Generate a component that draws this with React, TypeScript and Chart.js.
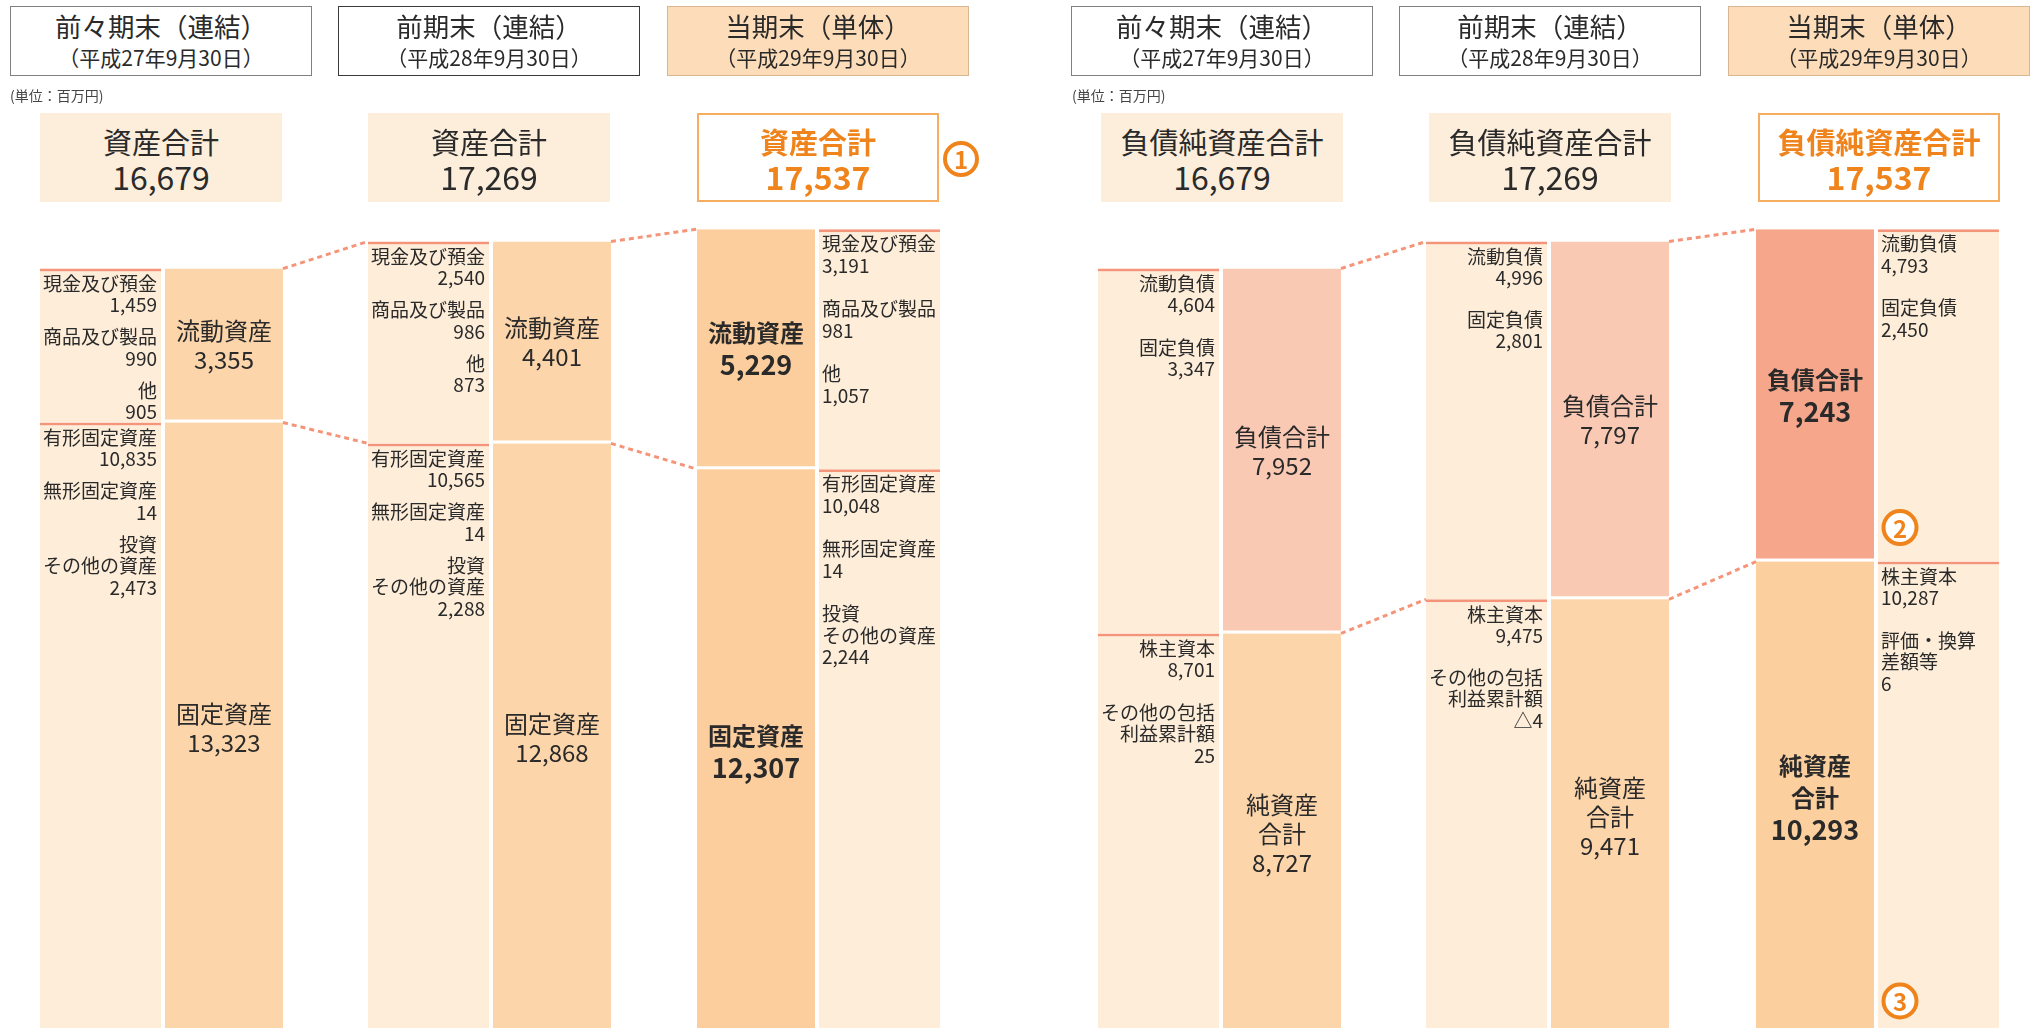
import React, { useEffect, useRef } from 'react';
import { Chart, registerables } from 'chart.js';

Chart.register(...registerables);

// ---------------- data ----------------
const periodNames = ['前々期末（連結）', '前期末（連結）', '当期末（単体）'];
const periodDates = ['（平成27年9月30日）', '（平成28年9月30日）', '（平成29年9月30日）'];
const unitLabel = '(単位：百万円)';

const totalAssets = [16679, 17269, 17537];
const currentAssets = [3355, 4401, 5229];
const fixedAssets = [13323, 12868, 12307];
const cashAndDeposits = [1459, 2540, 3191];
const merchandiseAndProducts = [990, 986, 981];
const otherCurrentAssets = [905, 873, 1057];
const tangibleFixedAssets = [10835, 10565, 10048];
const intangibleFixedAssets = [14, 14, 14];
const investmentsAndOtherAssets = [2473, 2288, 2244];

const totalLiabilitiesAndNetAssets = [16679, 17269, 17537];
const totalLiabilities = [7952, 7797, 7243];
const totalNetAssets = [8727, 9471, 10293];
const currentLiabilities = [4604, 4996, 4793];
const fixedLiabilities = [3347, 2801, 2450];
const shareholdersEquity = [8701, 9475, 10287];
const otherEquityValues = [25, -4, 6];
const otherEquityLabels = [
  ['その他の包括', '利益累計額'],
  ['その他の包括', '利益累計額'],
  ['評価・換算', '差額等'],
];

// ---------------- layout / style ----------------
const W = 2031;
const H = 1028;
const FONT = '"Noto Sans CJK JP", "Noto Sans", sans-serif';
const TEXT = '#2a2a2a';
const DETAIL_BG = '#FDEDD9';
const SALMON = '#F4957A';
const ASSET_BG = '#FCD5AA';
const ASSET_BG_EMPH = '#FCCE9E';
const LIAB_BG = '#FAC9B4';
const LIAB_BG_EMPH = '#F5A68B';
const NET_BG = '#FCD5AA';
const NET_BG_EMPH = '#FCCF9F';
const ORANGE = '#F0841C';
const TOTAL_BG = '#FDEEDC';

const COL_LEFT = [40, 368, 697, 1098, 1426, 1756];
const MAIN_FIRST = [false, false, true, false, false, true];
const DETAIL_W = 121;
const MAIN_W = 118;
const PAIR_GAP = 4;
const ITEM_GAP = [10.5, 10.5, 22, 21, 20, 21];
const HEADER_LEFT = [10, 338, 667, 1071, 1399, 1728];
const TOTAL_LEFT = [40, 368, 697, 1101, 1429, 1758];
const VALUE_AT_TOP = 22530;
const VALUE_AT_BOTTOM = 130;

const detailCenter = (c: number) =>
  MAIN_FIRST[c] ? COL_LEFT[c] + MAIN_W + PAIR_GAP + DETAIL_W / 2 : COL_LEFT[c] + DETAIL_W / 2;
const mainCenter = (c: number) =>
  MAIN_FIRST[c] ? COL_LEFT[c] + MAIN_W / 2 : COL_LEFT[c] + DETAIL_W + PAIR_GAP + MAIN_W / 2;

const fmt = (n: number) => (n < 0 ? '△' + Math.abs(n).toLocaleString('en-US') : n.toLocaleString('en-US'));

type Seg = { col: number; lo: number; hi: number; emph: boolean; fill: string; label: string[]; items: string[][] };

const mainUpper: Seg[] = [];
const mainLower: Seg[] = [];
const detailSegs: Seg[] = [];

for (let i = 0; i < 3; i++) {
  const emph = i === 2;
  const lo = fixedAssets[i];
  const hi = fixedAssets[i] + currentAssets[i];
  mainUpper.push({ col: i, lo, hi, emph, fill: emph ? ASSET_BG_EMPH : ASSET_BG, label: ['流動資産', fmt(currentAssets[i])], items: [] });
  mainLower.push({ col: i, lo: 0, hi: lo, emph, fill: emph ? ASSET_BG_EMPH : ASSET_BG, label: ['固定資産', fmt(fixedAssets[i])], items: [] });
  detailSegs.push({ col: i, lo, hi, emph, fill: DETAIL_BG, label: [], items: [
    ['現金及び預金', fmt(cashAndDeposits[i])],
    ['商品及び製品', fmt(merchandiseAndProducts[i])],
    ['他', fmt(otherCurrentAssets[i])],
  ] });
  detailSegs.push({ col: i, lo: 0, hi: lo, emph, fill: DETAIL_BG, label: [], items: [
    ['有形固定資産', fmt(tangibleFixedAssets[i])],
    ['無形固定資産', fmt(intangibleFixedAssets[i])],
    ['投資', 'その他の資産', fmt(investmentsAndOtherAssets[i])],
  ] });
}
for (let i = 0; i < 3; i++) {
  const c = 3 + i;
  const emph = i === 2;
  const lo = totalNetAssets[i];
  const hi = totalNetAssets[i] + totalLiabilities[i];
  mainUpper.push({ col: c, lo, hi, emph, fill: emph ? LIAB_BG_EMPH : LIAB_BG, label: ['負債合計', fmt(totalLiabilities[i])], items: [] });
  mainLower.push({ col: c, lo: 0, hi: lo, emph, fill: emph ? NET_BG_EMPH : NET_BG, label: ['純資産', '合計', fmt(totalNetAssets[i])], items: [] });
  detailSegs.push({ col: c, lo, hi, emph, fill: DETAIL_BG, label: [], items: [
    ['流動負債', fmt(currentLiabilities[i])],
    ['固定負債', fmt(fixedLiabilities[i])],
  ] });
  detailSegs.push({ col: c, lo: 0, hi: lo, emph, fill: DETAIL_BG, label: [], items: [
    ['株主資本', fmt(shareholdersEquity[i])],
    [...otherEquityLabels[i], fmt(otherEquityValues[i])],
  ] });
}

const labelPlugin = {
  id: 'bsLabels',
  afterDatasetsDraw(chart: any) {
    const ctx = chart.ctx as CanvasRenderingContext2D;
    const y = chart.scales.y;
    const upperMeta = chart.getDatasetMeta(1);
    ctx.save();

    // dashed connectors
    ctx.strokeStyle = SALMON;
    ctx.lineWidth = 3;
    ctx.setLineDash([5, 4]);
    for (const a of [0, 1, 3, 4]) {
      const b = a + 1;
      const elA = upperMeta.data[a];
      const xs = elA.x + elA.width / 2;
      const xe = COL_LEFT[b];
      const segA = mainUpper[a];
      const segB = mainUpper[b];
      for (const key of ['hi', 'lo'] as const) {
        ctx.beginPath();
        ctx.moveTo(xs, y.getPixelForValue(segA[key]));
        ctx.lineTo(xe, y.getPixelForValue(segB[key]));
        ctx.stroke();
      }
    }
    ctx.setLineDash([]);

    // main labels
    ctx.fillStyle = TEXT;
    ctx.textAlign = 'center';
    ctx.textBaseline = 'middle';
    const drawMain = (segs: Seg[], metaIndex: number) => {
      const meta = chart.getDatasetMeta(metaIndex);
      segs.forEach((s, i) => {
        const el = meta.data[i];
        const mid = (y.getPixelForValue(s.lo) + y.getPixelForValue(s.hi)) / 2;
        const lh = s.emph ? 32 : 29;
        const total = lh * s.label.length;
        s.label.forEach((t, k) => {
          const isNum = /[0-9]/.test(t);
          ctx.font = (s.emph ? 'bold ' : '') + (isNum && s.emph ? '27px ' : '24px ') + FONT;
          ctx.fillText(t, el.x, mid - total / 2 + lh / 2 + k * lh);
        });
      });
    };
    drawMain(mainUpper, 1);
    drawMain(mainLower, 2);

    // detail labels
    const dMeta = chart.getDatasetMeta(0);
    ctx.font = '19px ' + FONT;
    detailSegs.forEach((s, i) => {
      const el = dMeta.data[i];
      const left = MAIN_FIRST[s.col];
      ctx.textAlign = left ? 'left' : 'right';
      const tx = left ? el.x - el.width / 2 + 3 : el.x + el.width / 2 - 4;
      let cy = y.getPixelForValue(s.hi) + 15;
      s.items.forEach((item) => {
        item.forEach((t) => {
          ctx.fillText(t, tx, cy);
          cy += 21.5;
        });
        cy += ITEM_GAP[s.col];
      });
    });

    // circled markers 2 and 3 in last detail column
    const drawCircle = (cx: number, cy: number, n: string) => {
      ctx.beginPath();
      ctx.arc(cx, cy, 16.5, 0, Math.PI * 2);
      ctx.fillStyle = '#fff';
      ctx.fill();
      ctx.lineWidth = 4;
      ctx.strokeStyle = ORANGE;
      ctx.stroke();
      ctx.fillStyle = ORANGE;
      ctx.font = 'bold 24px ' + FONT;
      ctx.textAlign = 'center';
      ctx.textBaseline = 'middle';
      ctx.fillText(n, cx, cy + 1);
    };
    const lastDetail = dMeta.data[10];
    const lx = lastDetail.x - lastDetail.width / 2 + 22;
    drawCircle(lx, y.getPixelForValue(mainUpper[5].lo) - 34, '2');
    drawCircle(lx, chart.chartArea.bottom - 27, '3');

    ctx.restore();
  },
};

function App() {
  const canvasRef = useRef<HTMLCanvasElement | null>(null);

  useEffect(() => {
    if (!canvasRef.current) return;
    const chart = new Chart(canvasRef.current, {
      type: 'bar',
      data: {
        datasets: [
          {
            label: '内訳',
            data: detailSegs.map((s) => ({ x: detailCenter(s.col), y: [s.lo, s.hi] })) as any,
            backgroundColor: detailSegs.map((s) => s.fill),
            borderColor: SALMON,
            borderWidth: { top: 3, right: 0, bottom: 0, left: 0 },
            borderSkipped: false,
            barThickness: DETAIL_W,
            grouped: false,
            inflateAmount: 0,
          } as any,
          {
            label: '区分（上）',
            data: mainUpper.map((s) => ({ x: mainCenter(s.col), y: [s.lo, s.hi] })) as any,
            backgroundColor: mainUpper.map((s) => s.fill),
            borderColor: '#ffffff',
            borderWidth: { top: 0, right: 0, bottom: 3, left: 0 },
            borderSkipped: false,
            barThickness: MAIN_W,
            grouped: false,
            inflateAmount: 0,
          } as any,
          {
            label: '区分（下）',
            data: mainLower.map((s) => ({ x: mainCenter(s.col), y: [s.lo, s.hi] })) as any,
            backgroundColor: mainLower.map((s) => s.fill),
            borderWidth: 0,
            borderSkipped: false,
            barThickness: MAIN_W,
            grouped: false,
            inflateAmount: 0,
          } as any,
        ],
      },
      options: {
        responsive: false,
        animation: false,
        devicePixelRatio: 1,
        events: [],
        layout: { padding: 0 },
        plugins: {
          legend: { display: false },
          tooltip: { enabled: false },
          title: { display: false },
        },
        scales: {
          x: { type: 'linear', min: 0, max: W, display: false, offset: false },
          y: { type: 'linear', min: VALUE_AT_BOTTOM, max: VALUE_AT_TOP, display: false },
        },
      } as any,
      plugins: [labelPlugin],
    });
    return () => chart.destroy();
  }, []);

  const headerBox = (i: number) => {
    const p = i % 3;
    const emph = p === 2;
    const borderColor = emph ? '#D9B690' : i === 1 ? '#3a3a3a' : '#808080';
    return (
      <div
        key={'h' + i}
        style={{
          position: 'absolute',
          left: HEADER_LEFT[i],
          top: 6,
          width: 302,
          height: 70,
          boxSizing: 'border-box',
          border: `1.5px solid ${borderColor}`,
          background: emph ? '#FDDDB9' : '#fff',
          color: TEXT,
          textAlign: 'center',
        }}
      >
        <div style={{ position: 'absolute', left: 0, right: 0, top: 3, height: 32, lineHeight: '32px', fontSize: 26.5 }}>
          {periodNames[p]}
        </div>
        <div style={{ position: 'absolute', left: 0, right: 0, top: 37, height: 26, lineHeight: '26px', fontSize: 21 }}>
          {periodDates[p]}
        </div>
      </div>
    );
  };

  const totalBox = (i: number) => {
    const p = i % 3;
    const emph = p === 2;
    const title = i < 3 ? '資産合計' : '負債純資産合計';
    const value = i < 3 ? totalAssets[p] : totalLiabilitiesAndNetAssets[p];
    return (
      <div
        key={'t' + i}
        style={{
          position: 'absolute',
          left: TOTAL_LEFT[i],
          top: 113,
          width: 242,
          height: 89,
          boxSizing: 'border-box',
          border: emph ? '2px solid #F6AD5F' : 'none',
          background: emph ? '#fff' : TOTAL_BG,
          color: emph ? ORANGE : TEXT,
          fontWeight: emph ? 700 : 400,
          textAlign: 'center',
        }}
      >
        <div style={{ position: 'absolute', left: 0, right: 0, top: emph ? 8 : 10, height: 36, lineHeight: '36px', fontSize: 29 }}>
          {title}
        </div>
        <div style={{ position: 'absolute', left: 0, right: 0, top: emph ? 43 : 45, height: 36, lineHeight: '36px', fontSize: 32 }}>
          {fmt(value)}
        </div>
      </div>
    );
  };

  return (
    <div
      style={{
        position: 'fixed',
        left: 0,
        top: 0,
        width: W,
        height: H,
        background: '#fff',
        overflow: 'hidden',
        fontFamily: FONT,
      }}
    >
      <canvas ref={canvasRef} width={W} height={H} style={{ position: 'absolute', left: 0, top: 0, width: W, height: H }} />
      {[0, 1, 2, 3, 4, 5].map(headerBox)}
      {[0, 1, 2, 3, 4, 5].map(totalBox)}
      {[10, 1072].map((x) => (
        <div key={'u' + x} style={{ position: 'absolute', left: x, top: 85, height: 20, lineHeight: '20px', fontSize: 14, color: '#444' }}>
          {unitLabel}
        </div>
      ))}
      <div
        style={{
          position: 'absolute',
          left: 943,
          top: 141,
          width: 36,
          height: 36,
          boxSizing: 'border-box',
          borderRadius: '50%',
          border: `4px solid ${ORANGE}`,
          color: ORANGE,
          fontWeight: 700,
          fontSize: 24,
          lineHeight: '28px',
          textAlign: 'center',
        }}
      >
        1
      </div>
    </div>
  );
}

export default App;
